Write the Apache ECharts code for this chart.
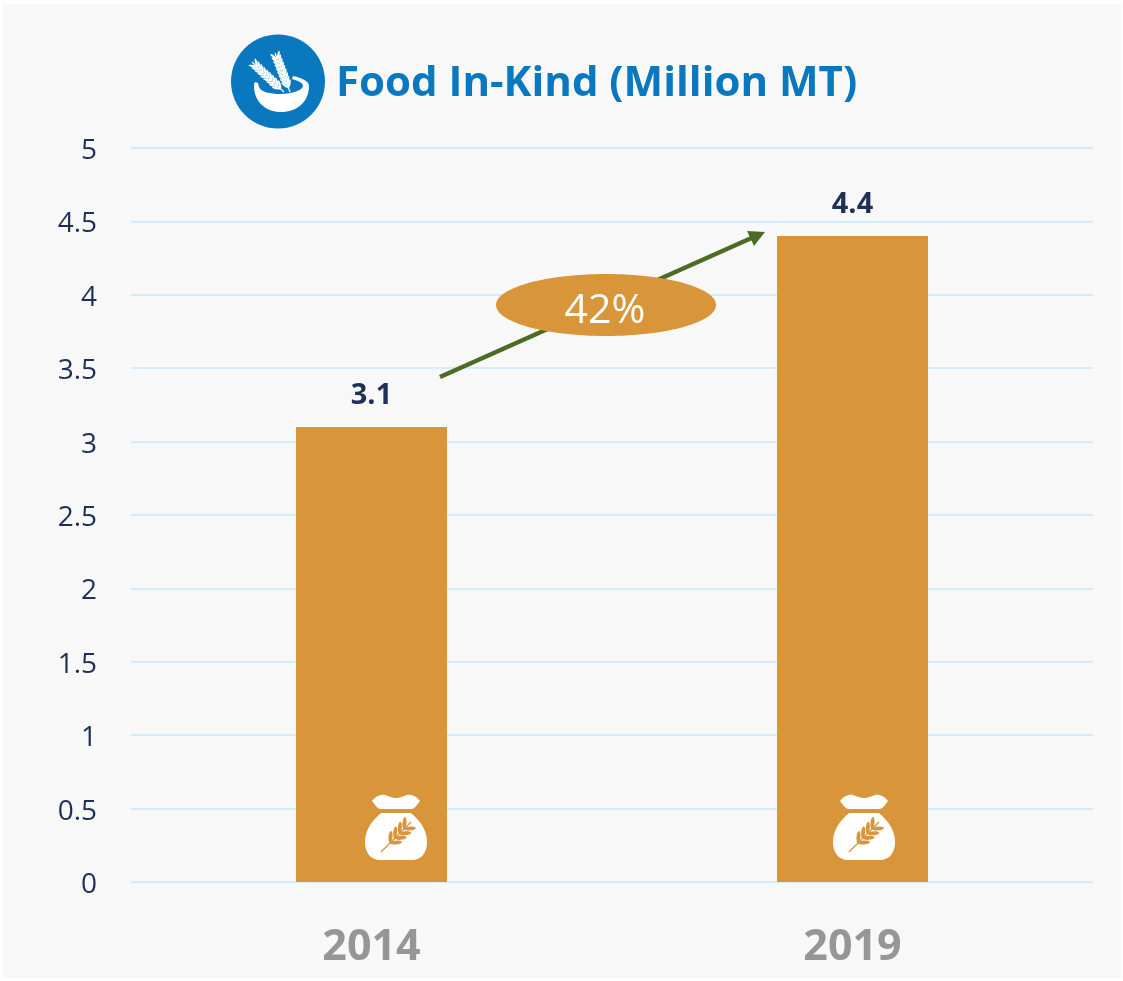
<!DOCTYPE html>
<html>
<head>
<meta charset="utf-8">
<style>
  html, body { margin: 0; padding: 0; background: #fff; }
  #main { width: 1123px; height: 981px; }
</style>
<script src="https://cdn.jsdelivr.net/npm/echarts@6/dist/echarts.min.js"></script>
</head>
<body>
<div id="main"></div>
<script>
var years = ['2014', '2019'];
var foodValues = [3.1, 4.4];
var titleText = 'Food In-Kind (Million MT)';
var growthText = '42%';

var BLUE = '#0a78bf';
var ORANGE = '#d8953a';
var NAVY = '#1f2f57';
var FONT = '"Open Sans", "Noto Sans", sans-serif';

// the graphic component has no plain "path" type, so icon outlines get registered as shapes
echarts.graphic.registerShape('bowlBody', echarts.graphic.extendPath(
  'M254 86 C254 102 266 112 281 112 C297 112 309 102 309 86 C309 81 302 78 293 76 L292 79 C299 81 303 83 303 86 C303 90 292 94 281 94 C270 94 261 92 259 87 L258 83 L255 82 C254 83 254 85 254 86 Z'
));
echarts.graphic.registerShape('sackKnot', echarts.graphic.extendPath(
  'M372 801 C375 797 380 794 385 795 C389 796 392 798 396 798 C400 798 403 796 407 795 C412 794 417 797 420 801 C417 805 415 808 412 809 L380 809 C377 808 375 805 372 801 Z'
));
echarts.graphic.registerShape('sackBody', echarts.graphic.extendPath(
  'M381 813 L411 813 C419 820 427 829 427 842 C427 853 421 860 412 860 L380 860 C371 860 365 853 365 842 C365 829 373 820 381 813 Z'
));

// one wheat ear: stem plus pairs of grains going up towards the tip
function wheatEar(x0, y0, x1, y1, color, grainLen, grainW, pairs, start, spread, z) {
  var out = [{
    type: 'line', z: z,
    shape: { x1: x0, y1: y0, x2: x1, y2: y1 },
    style: { stroke: color, lineWidth: 1.2 }
  }];
  var ang = Math.atan2(y1 - y0, x1 - x0);
  for (var i = 0; i < pairs; i++) {
    var t = start + (0.92 - start) * i / pairs;
    var px = x0 + (x1 - x0) * t, py = y0 + (y1 - y0) * t;
    [-spread, spread].forEach(function (d) {
      var a = ang + d;
      out.push({
        type: 'ellipse', z: z, x: px, y: py, rotation: -a,
        shape: { cx: grainLen / 2, cy: 0, rx: grainLen / 2, ry: grainW / 2 },
        style: { fill: color }
      });
    });
  }
  return out;
}

function bowlIcon() {
  var parts = [
    { type: 'circle', z: 10, shape: { cx: 278, cy: 81.5, r: 47 }, style: { fill: BLUE } },
    { type: 'bowlBody', z: 11, style: { fill: '#fff' } }
  ];
  return parts
    .concat(wheatEar(284, 92, 252, 62, '#fff', 9, 2.4, 9, 0.1, 0.55, 13))
    .concat(wheatEar(290, 92, 275, 53, '#fff', 9, 2.4, 9, 0.1, 0.55, 13));
}

function sackIcon(dx) {
  var parts = [
    { type: 'sackKnot', z: 10, style: { fill: '#fff' } },
    { type: 'sackBody', z: 10, style: { fill: '#fff' } }
  ].concat(wheatEar(381, 852, 411, 822, ORANGE, 12, 4, 4, 0.3, 0.7, 11));
  return { type: 'group', x: dx, y: 0, children: parts };
}

var chart = echarts.init(document.getElementById('main'), null, { renderer: 'canvas' });
chart.setOption({
  animation: false,
  backgroundColor: '#ffffff',
  title: {
    text: titleText,
    left: 331,
    top: 58,
    textStyle: { color: BLUE, fontFamily: FONT, fontWeight: 700, fontSize: 42 }
  },
  grid: { left: 131, right: 30, top: 148, bottom: 99 },
  xAxis: {
    type: 'category',
    data: years,
    axisLine: { show: false },
    axisTick: { show: false },
    axisLabel: { color: '#969696', fontFamily: FONT, fontWeight: 700, fontSize: 43, margin: 44 }
  },
  yAxis: {
    type: 'value',
    min: 0,
    max: 5,
    interval: 0.5,
    axisLine: { show: false },
    axisTick: { show: false },
    // top-aligned with a short line box: pushes the digits a few px below the gridline
    axisLabel: { color: NAVY, fontFamily: FONT, fontSize: 28, margin: 34, verticalAlign: 'top', lineHeight: 6 },
    splitLine: { lineStyle: { color: '#d2eefc', width: 2 } }
  },
  series: [{
    type: 'bar',
    data: foodValues,
    barWidth: 151,
    itemStyle: { color: ORANGE },
    label: {
      show: true,
      position: 'top',
      distance: 17,
      color: NAVY,
      fontFamily: FONT,
      fontWeight: 700,
      fontSize: 29
    }
  }],
  graphic: [
    { type: 'rect', z: -10, silent: true, shape: { x: 3, y: 4, width: 1118, height: 974 }, style: { fill: '#f8f8f8' } },
    // arrow between the two bars
    { type: 'line', z: 10, shape: { x1: 440, y1: 377, x2: 756, y2: 236 }, style: { stroke: '#4e6b26', lineWidth: 4.5 } },
    { type: 'polygon', z: 10, shape: { points: [[765, 232], [747, 231], [754, 246]] }, style: { fill: '#4e6b26' } },
    { type: 'ellipse', z: 11, shape: { cx: 606, cy: 305, rx: 110, ry: 31 }, style: { fill: ORANGE } },
    { type: 'text', z: 12, x: 605, y: 311,
      style: { text: growthText, fill: '#fff', font: '400 41px ' + FONT, textAlign: 'center', textVerticalAlign: 'middle' } },
    { type: 'group', children: bowlIcon() },
    sackIcon(0),
    sackIcon(468)
  ]
});
</script>
</body>
</html>
